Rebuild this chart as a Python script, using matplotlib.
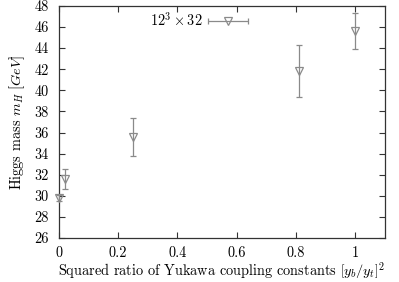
import numpy as np
import matplotlib
matplotlib.use("Agg")
import matplotlib.pyplot as plt
from matplotlib.container import ErrorbarContainer
from matplotlib.legend_handler import HandlerErrorbar

# data
ratio = [0.0, 0.02, 0.25, 0.81, 1.0]
mass = [29.8, 31.6, 35.6, 41.85, 45.6]
mass_err = [0.3, 0.95, 1.8, 2.45, 1.7]
xticks = [0, 0.2, 0.4, 0.6, 0.8, 1]
xtick_labels = ["0", "0.2", "0.4", "0.6", "0.8", "1"]
yticks = list(range(26, 49, 2))

plt.rcParams["font.family"] = "serif"
plt.rcParams["font.serif"] = ["cmr10"]
plt.rcParams["mathtext.fontset"] = "cm"
plt.rcParams["axes.unicode_minus"] = False
plt.rcParams["font.size"] = 10.3

fig = plt.figure(figsize=(3.99, 2.82), dpi=100)
ax = fig.add_axes([0.147, 0.156, 0.818, 0.823])

gray = "#8a8a8a"
ax.errorbar(ratio, mass, yerr=mass_err, fmt="v", mfc="none", mec=gray,
            ms=6, mew=0.9, ecolor=gray, elinewidth=0.9, capsize=2.5,
            capthick=0.9, clip_on=False, zorder=3)

# legend proxy: gnuplot style sample with horizontal bar
proxy = ax.errorbar([np.nan], [np.nan], xerr=[1.0], fmt="v", mfc="none",
                    mec=gray, ms=6, mew=0.9, ecolor=gray, elinewidth=0.9,
                    capsize=2.5, capthick=0.9, label=r"$12^3\times32$")
ax.legend(handles=[proxy], loc="upper left", bbox_to_anchor=(0.28, 0.978),
          frameon=False, markerfirst=False, numpoints=1, handlelength=3.0,
          borderpad=0, borderaxespad=0, handletextpad=0.3,
          handler_map={ErrorbarContainer: HandlerErrorbar(xerr_size=1.4)})

ax.set_xlim(0, 1.1)
ax.set_ylim(26, 48)
ax.set_xticks(xticks)
ax.set_xticklabels(xtick_labels)
ax.set_yticks(yticks)
ax.tick_params(direction="in", top=True, right=True, length=4, width=0.8,
               colors="#333333", labelcolor="black", pad=7)
ax.tick_params(axis="x", pad=6)
for s in ax.spines.values():
    s.set_linewidth(0.9)
    s.set_color("#333333")

ax.set_xlabel(r"Squared ratio of Yukawa coupling constants $\left[y_b/y_t\right]^2$",
              labelpad=0)
ax.set_ylabel(r"Higgs mass $m_H\ [GeV]$", labelpad=5)

fig.savefig("out.png", dpi=100)
